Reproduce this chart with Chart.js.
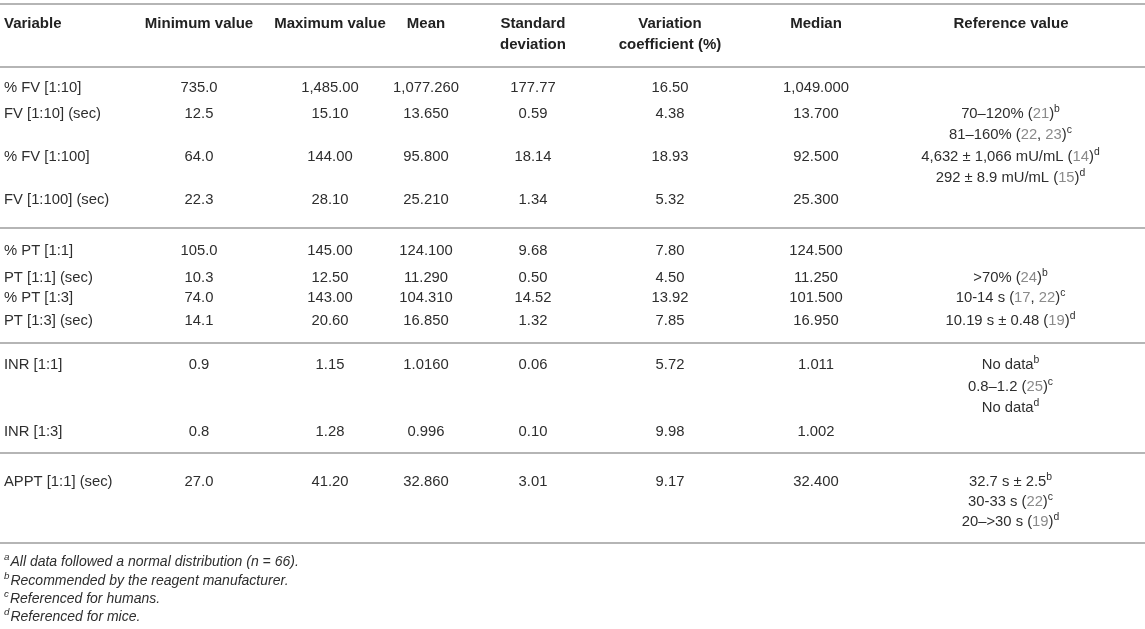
<!DOCTYPE html>
<html>
<head>
<meta charset="utf-8">
<script src="https://cdn.jsdelivr.net/npm/chart.js@4/dist/chart.umd.min.js"></script>
<style>
  html, body { margin: 0; padding: 0; background: #ffffff; }
  canvas { display: block; }
</style>
</head>
<body>
<canvas id="table" width="1145" height="629"></canvas>
<script>
// ============================================================
// DATA
// ============================================================

const headers    = [["Variable"], ["Minimum value"], ["Maximum value"], ["Mean"],
                    ["Standard", "deviation"], ["Variation", "coefficient (%)"], ["Median"], ["Reference value"]];
const variables  = ["% FV [1:10]", "FV [1:10] (sec)", "% FV [1:100]", "FV [1:100] (sec)",
                    "% PT [1:1]", "PT [1:1] (sec)", "% PT [1:3]", "PT [1:3] (sec)",
                    "INR [1:1]", "INR [1:3]", "APPT [1:1] (sec)"];
const minValues  = ["735.0", "12.5", "64.0", "22.3", "105.0", "10.3", "74.0", "14.1", "0.9", "0.8", "27.0"];
const maxValues  = ["1,485.00", "15.10", "144.00", "28.10", "145.00", "12.50", "143.00", "20.60", "1.15", "1.28", "41.20"];
const means      = ["1,077.260", "13.650", "95.800", "25.210", "124.100", "11.290", "104.310", "16.850", "1.0160", "0.996", "32.860"];
const stdDevs    = ["177.77", "0.59", "18.14", "1.34", "9.68", "0.50", "14.52", "1.32", "0.06", "0.10", "3.01"];
const varCoefs   = ["16.50", "4.38", "18.93", "5.32", "7.80", "4.50", "13.92", "7.85", "5.72", "9.98", "9.17"];
const medians    = ["1,049.000", "13.700", "92.500", "25.300", "124.500", "11.250", "101.500", "16.950", "1.011", "1.002", "32.400"];

// {..} = citation (grey), ^x = superscript
const referenceLines = [
  "70–120% ({21})^b", "81–160% ({22}, {23})^c", "4,632 ± 1,066 mU/mL ({14})^d", "292 ± 8.9 mU/mL ({15})^d",
  ">70% ({24})^b", "10-14 s ({17}, {22})^c", "10.19 s ± 0.48 ({19})^d",
  "No data^b", "0.8–1.2 ({25})^c", "No data^d",
  "32.7 s ± 2.5^b", "30-33 s ({22})^c", "20–>30 s ({19})^d"
];
const footnotes = [
  "^aAll data followed a normal distribution (n = 66).",
  "^bRecommended by the reagent manufacturer.",
  "^cReferenced for humans.",
  "^dReferenced for mice."
];


// ============================================================
// LAYOUT (scale units = page pixels)
// ============================================================

const colX     = [4, 199, 330, 426, 533, 670, 816, 1011];
const headerY  = [24, 45];
const rowY     = [88, 114, 157, 200, 251, 278, 298, 321, 365, 432, 482];
const refY     = [114, 135, 157, 178, 278, 298, 321, 365, 387, 408, 482, 502, 522];
const ruleY    = [4, 67, 228, 343, 453, 543];
const footY    = [562, 581, 599, 617];

const FONT      = '"Liberation Sans", Arial, sans-serif';
const HEAD_SIZE = 15;
const BODY_SIZE = 14.8;
const FOOT_SIZE = 14;
const TEXT_CLR  = "#2e2e2e";
const CITE_CLR  = "#8a8a8a";
const RULE_CLR  = "#b5b5b5";


// ============================================================
// DRAWING HELPERS
// ============================================================

function parseRich(str) {
  const segs = [];
  let i = 0, buf = "";
  const flush = () => { if (buf) segs.push({ t: buf, kind: "n" }); buf = ""; };
  while (i < str.length) {
    const ch = str[i];
    if (ch === "{") {
      flush();
      const end = str.indexOf("}", i);
      segs.push({ t: str.slice(i + 1, end), kind: "cite" });
      i = end + 1;
    } else if (ch === "^") {
      flush();
      segs.push({ t: str[i + 1], kind: "sup" });
      i += 2;
    } else {
      buf += ch;
      i++;
    }
  }
  flush();
  return segs;
}

function drawRich(ctx, str, x, y, align, size, style) {
  const segs = parseRich(str);
  const fontFor = s => style + " " + (s.kind === "sup" ? size * 0.7 : size) + "px " + FONT;
  let total = 0;
  segs.forEach(s => { ctx.font = fontFor(s); s.w = ctx.measureText(s.t).width + (s.kind === "sup" ? 1 : 0); total += s.w; });
  let cx = align === "center" ? x - total / 2 : x;
  ctx.textAlign = "left";
  ctx.textBaseline = "middle";
  segs.forEach(s => {
    ctx.font = fontFor(s);
    ctx.fillStyle = s.kind === "cite" ? CITE_CLR : TEXT_CLR;
    ctx.fillText(s.t, cx, s.kind === "sup" ? y - size * 0.36 : y);
    cx += s.w;
  });
}

const tablePlugin = {
  id: "tablePlugin",
  afterDraw(chart) {
    const ctx = chart.ctx;
    const xs = chart.scales.x, ys = chart.scales.y;
    const px = v => xs.getPixelForValue(v);
    const py = v => ys.getPixelForValue(v);
    ctx.save();

    // rules
    ctx.strokeStyle = RULE_CLR;
    ctx.lineWidth = 2;
    ruleY.forEach(r => {
      ctx.beginPath();
      ctx.moveTo(px(xs.min), py(r));
      ctx.lineTo(px(xs.max), py(r));
      ctx.stroke();
    });

    // header
    ctx.fillStyle = "#222";
    ctx.font = "bold " + HEAD_SIZE + "px " + FONT;
    ctx.textBaseline = "middle";
    headers.forEach((lines, c) => {
      ctx.textAlign = c === 0 ? "left" : "center";
      lines.forEach((ln, k) => ctx.fillText(ln, px(colX[c]), py(headerY[k])));
    });

    // body cells
    const columns = [variables, minValues, maxValues, means, stdDevs, varCoefs, medians];
    ctx.font = BODY_SIZE + "px " + FONT;
    ctx.fillStyle = TEXT_CLR;
    columns.forEach((col, c) => {
      ctx.textAlign = c === 0 ? "left" : "center";
      col.forEach((val, r) => ctx.fillText(val, px(colX[c]), py(rowY[r])));
    });

    // reference value column
    referenceLines.forEach((ln, k) => drawRich(ctx, ln, px(colX[7]), py(refY[k]), "center", BODY_SIZE, "normal"));

    // footnotes
    footnotes.forEach((ln, k) => drawRich(ctx, ln, px(colX[0]), py(footY[k]), "left", FOOT_SIZE, "italic"));

    ctx.restore();
  }
};


// ============================================================
// INIT
// ============================================================

new Chart(document.getElementById("table").getContext("2d"), {
  type: "scatter",
  data: { datasets: [] },
  options: {
    responsive: false,
    animation: false,
    layout: { padding: 0 },
    plugins: { legend: { display: false }, tooltip: { enabled: false } },
    scales: {
      x: { type: "linear", min: 0, max: 1145, display: false },
      y: { type: "linear", min: 0, max: 629, reverse: true, display: false }
    }
  },
  plugins: [tablePlugin]
});
</script>
</body>
</html>
